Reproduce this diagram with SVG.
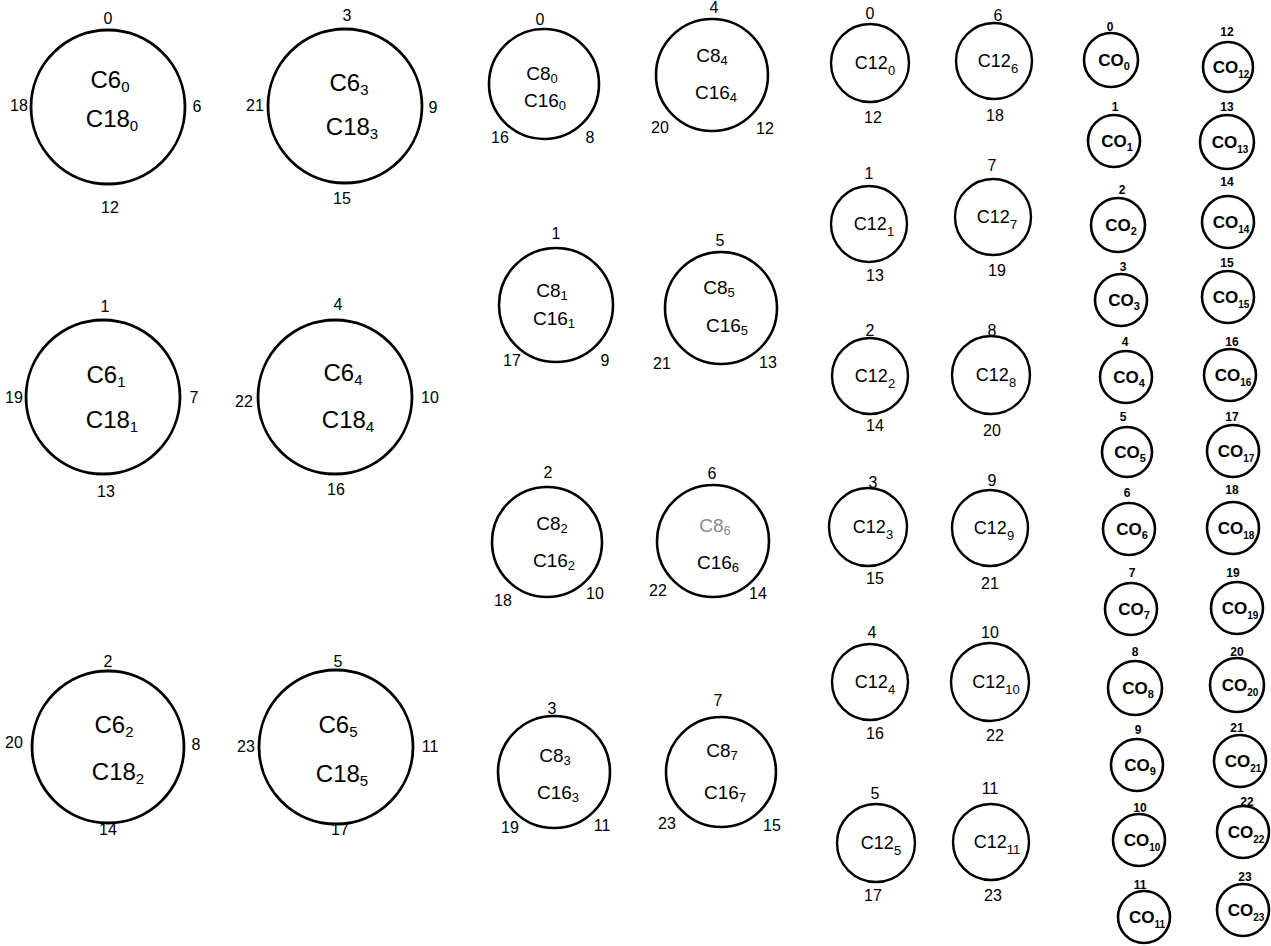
<svg xmlns="http://www.w3.org/2000/svg" width="1271" height="946" viewBox="0 0 1271 946">
<style>
text{font-family:"Liberation Sans","DejaVu Sans",sans-serif;fill:#000;text-anchor:middle}
circle{fill:none;stroke:#000}
.k6 circle{stroke-width:2.8}
.k8 circle{stroke-width:2.6}
.k12 circle{stroke-width:2.4}
.k0 circle{stroke-width:2.6}
.t6{font-size:24px}
.t8{font-size:19px}
.t12{font-size:18px}
.t0{font-size:17px;font-weight:bold}
.l{font-size:16px}
.ls{font-size:12px;font-weight:bold}
.faint{fill:#8a8a8a}
</style>
<rect width="1271" height="946" fill="#fff"/>
<g id="connectors"></g>

<!-- C6 nodes -->
<g id="c6-0" class="k6"><circle cx="108" cy="107" r="77"/>
<text class="t6" x="110" y="88">C6<tspan font-size="15" dy="4">0</tspan></text>
<text class="t6" x="112" y="127">C18<tspan font-size="15" dy="4">0</tspan></text>
<text class="l" x="108" y="24">0</text><text class="l" x="19" y="111">18</text><text class="l" x="197" y="112">6</text><text class="l" x="110" y="213">12</text></g>

<g id="c6-3" class="k6"><circle cx="345" cy="106" r="77"/>
<text class="t6" x="349" y="91">C6<tspan font-size="15" dy="4">3</tspan></text>
<text class="t6" x="352" y="135">C18<tspan font-size="15" dy="4">3</tspan></text>
<text class="l" x="347" y="21">3</text><text class="l" x="255" y="111">21</text><text class="l" x="433" y="113">9</text><text class="l" x="342" y="204">15</text></g>

<g id="c6-1" class="k6"><circle cx="103" cy="397" r="77"/>
<text class="t6" x="106" y="383">C6<tspan font-size="15" dy="4">1</tspan></text>
<text class="t6" x="112" y="428">C18<tspan font-size="15" dy="4">1</tspan></text>
<text class="l" x="105" y="312">1</text><text class="l" x="14" y="403">19</text><text class="l" x="194" y="403">7</text><text class="l" x="106" y="497">13</text></g>

<g id="c6-4" class="k6"><circle cx="335" cy="397" r="77"/>
<text class="t6" x="343" y="381">C6<tspan font-size="15" dy="4">4</tspan></text>
<text class="t6" x="348" y="428">C18<tspan font-size="15" dy="4">4</tspan></text>
<text class="l" x="338" y="310">4</text><text class="l" x="244" y="407">22</text><text class="l" x="430" y="403">10</text><text class="l" x="336" y="495">16</text></g>

<g id="c6-2" class="k6"><circle cx="108" cy="747" r="76"/>
<text class="t6" x="114" y="733">C6<tspan font-size="15" dy="4">2</tspan></text>
<text class="t6" x="118" y="780">C18<tspan font-size="15" dy="4">2</tspan></text>
<text class="l" x="108" y="667">2</text><text class="l" x="14" y="748">20</text><text class="l" x="196" y="750">8</text><text class="l" x="108" y="835">14</text></g>

<g id="c6-5" class="k6"><circle cx="336" cy="747" r="77"/>
<text class="t6" x="338" y="733">C6<tspan font-size="15" dy="4">5</tspan></text>
<text class="t6" x="342" y="782">C18<tspan font-size="15" dy="4">5</tspan></text>
<text class="l" x="338" y="667">5</text><text class="l" x="246" y="752">23</text><text class="l" x="430" y="752">11</text><text class="l" x="340" y="835">17</text></g>

<!-- C8 nodes -->
<g id="c8-0" class="k8"><circle cx="544" cy="84" r="55"/>
<text class="t8" x="542" y="80">C8<tspan font-size="13" dy="3">0</tspan></text>
<text class="t8" x="545" y="107">C16<tspan font-size="13" dy="3">0</tspan></text>
<text class="l" x="540" y="25">0</text><text class="l" x="500" y="143">16</text><text class="l" x="590" y="143">8</text></g>

<g id="c8-4" class="k8"><circle cx="712" cy="75" r="56"/>
<text class="t8" x="712" y="62">C8<tspan font-size="13" dy="3">4</tspan></text>
<text class="t8" x="716" y="99">C16<tspan font-size="13" dy="3">4</tspan></text>
<text class="l" x="714" y="13">4</text><text class="l" x="660" y="133">20</text><text class="l" x="765" y="134">12</text></g>

<g id="c8-1" class="k8"><circle cx="556" cy="305" r="57"/>
<text class="t8" x="552" y="297">C8<tspan font-size="13" dy="3">1</tspan></text>
<text class="t8" x="554" y="325">C16<tspan font-size="13" dy="3">1</tspan></text>
<text class="l" x="556" y="239">1</text><text class="l" x="512" y="366">17</text><text class="l" x="605" y="366">9</text></g>

<g id="c8-5" class="k8"><circle cx="721" cy="308" r="56"/>
<text class="t8" x="719" y="294">C8<tspan font-size="13" dy="3">5</tspan></text>
<text class="t8" x="727" y="332">C16<tspan font-size="13" dy="3">5</tspan></text>
<text class="l" x="720" y="246">5</text><text class="l" x="662" y="369">21</text><text class="l" x="768" y="368">13</text></g>

<g id="c8-2" class="k8"><circle cx="547" cy="542" r="55"/>
<text class="t8" x="552" y="530">C8<tspan font-size="13" dy="3">2</tspan></text>
<text class="t8" x="554" y="567">C16<tspan font-size="13" dy="3">2</tspan></text>
<text class="l" x="548" y="478">2</text><text class="l" x="503" y="606">18</text><text class="l" x="595" y="599">10</text></g>

<g id="c8-6" class="k8"><circle cx="713" cy="541" r="56"/>
<text class="t8 faint" x="715" y="532">C8<tspan font-size="13" dy="3">6</tspan></text>
<text class="t8" x="718" y="569">C16<tspan font-size="13" dy="3">6</tspan></text>
<text class="l" x="712" y="479">6</text><text class="l" x="658" y="596">22</text><text class="l" x="758" y="599">14</text></g>

<g id="c8-3" class="k8"><circle cx="554" cy="772" r="56"/>
<text class="t8" x="555" y="762">C8<tspan font-size="13" dy="3">3</tspan></text>
<text class="t8" x="558" y="799">C16<tspan font-size="13" dy="3">3</tspan></text>
<text class="l" x="552" y="714">3</text><text class="l" x="510" y="833">19</text><text class="l" x="602" y="831">11</text></g>

<g id="c8-7" class="k8"><circle cx="721" cy="772" r="55"/>
<text class="t8" x="722" y="757">C8<tspan font-size="13" dy="3">7</tspan></text>
<text class="t8" x="725" y="799">C16<tspan font-size="13" dy="3">7</tspan></text>
<text class="l" x="718" y="706">7</text><text class="l" x="667" y="829">23</text><text class="l" x="772" y="831">15</text></g>

<!-- C12 nodes -->
<g id="c12-0" class="k12"><circle cx="870" cy="63" r="39"/><text class="t12" x="875" y="69">C12<tspan font-size="13" dy="6">0</tspan></text><text class="l" x="870" y="19">0</text><text class="l" x="873" y="123">12</text></g>
<g id="c12-6" class="k12"><circle cx="994" cy="61" r="38"/><text class="t12" x="998" y="67">C12<tspan font-size="13" dy="6">6</tspan></text><text class="l" x="998" y="21">6</text><text class="l" x="995" y="121">18</text></g>
<g id="c12-1" class="k12"><circle cx="869" cy="224" r="38"/><text class="t12" x="874" y="230">C12<tspan font-size="13" dy="6">1</tspan></text><text class="l" x="869" y="179">1</text><text class="l" x="875" y="281">13</text></g>
<g id="c12-7" class="k12"><circle cx="993" cy="217" r="38"/><text class="t12" x="997" y="223">C12<tspan font-size="13" dy="6">7</tspan></text><text class="l" x="992" y="171">7</text><text class="l" x="997" y="276">19</text></g>
<g id="c12-2" class="k12"><circle cx="870" cy="376" r="38"/><text class="t12" x="875" y="382">C12<tspan font-size="13" dy="6">2</tspan></text><text class="l" x="870" y="336">2</text><text class="l" x="875" y="431">14</text></g>
<g id="c12-8" class="k12"><circle cx="991" cy="375" r="39"/><text class="t12" x="996" y="381">C12<tspan font-size="13" dy="6">8</tspan></text><text class="l" x="992" y="336">8</text><text class="l" x="992" y="436">20</text></g>
<g id="c12-3" class="k12"><circle cx="868" cy="527" r="39"/><text class="t12" x="873" y="533">C12<tspan font-size="13" dy="6">3</tspan></text><text class="l" x="873" y="488">3</text><text class="l" x="875" y="584">15</text></g>
<g id="c12-9" class="k12"><circle cx="990" cy="528" r="38"/><text class="t12" x="994" y="534">C12<tspan font-size="13" dy="6">9</tspan></text><text class="l" x="992" y="486">9</text><text class="l" x="990" y="589">21</text></g>
<g id="c12-4" class="k12"><circle cx="870" cy="682" r="38"/><text class="t12" x="875" y="688">C12<tspan font-size="13" dy="6">4</tspan></text><text class="l" x="872" y="638">4</text><text class="l" x="875" y="739">16</text></g>
<g id="c12-10" class="k12"><circle cx="990" cy="682" r="39"/><text class="t12" x="996" y="688">C12<tspan font-size="13" dy="6">10</tspan></text><text class="l" x="990" y="638">10</text><text class="l" x="995" y="741">22</text></g>
<g id="c12-5" class="k12"><circle cx="876" cy="843" r="39"/><text class="t12" x="881" y="849">C12<tspan font-size="13" dy="6">5</tspan></text><text class="l" x="875" y="799">5</text><text class="l" x="873" y="901">17</text></g>
<g id="c12-11" class="k12"><circle cx="991" cy="842" r="38"/><text class="t12" x="997" y="848">C12<tspan font-size="13" dy="6">11</tspan></text><text class="l" x="990" y="794">11</text><text class="l" x="993" y="901">23</text></g>

<!-- C0 nodes -->
<g id="co-0" class="k0"><circle cx="1111" cy="60" r="27"/><text class="t0" x="1114" y="66">CO<tspan font-size="11" dy="4">0</tspan></text><text class="ls" x="1110" y="31">0</text></g>
<g id="co-1" class="k0"><circle cx="1114" cy="141" r="26"/><text class="t0" x="1117" y="147">CO<tspan font-size="11" dy="4">1</tspan></text><text class="ls" x="1115" y="111">1</text></g>
<g id="co-2" class="k0"><circle cx="1118" cy="225" r="27"/><text class="t0" x="1121" y="231">CO<tspan font-size="11" dy="4">2</tspan></text><text class="ls" x="1122" y="194">2</text></g>
<g id="co-3" class="k0"><circle cx="1121" cy="300" r="26"/><text class="t0" x="1124" y="306">CO<tspan font-size="11" dy="4">3</tspan></text><text class="ls" x="1123" y="271">3</text></g>
<g id="co-4" class="k0"><circle cx="1126" cy="377" r="26"/><text class="t0" x="1129" y="383">CO<tspan font-size="11" dy="4">4</tspan></text><text class="ls" x="1125" y="346">4</text></g>
<g id="co-5" class="k0"><circle cx="1127" cy="452" r="25"/><text class="t0" x="1130" y="458">CO<tspan font-size="11" dy="4">5</tspan></text><text class="ls" x="1123" y="421">5</text></g>
<g id="co-6" class="k0"><circle cx="1129" cy="529" r="26"/><text class="t0" x="1132" y="535">CO<tspan font-size="11" dy="4">6</tspan></text><text class="ls" x="1127" y="497">6</text></g>
<g id="co-7" class="k0"><circle cx="1131" cy="609" r="26"/><text class="t0" x="1134" y="615">CO<tspan font-size="11" dy="4">7</tspan></text><text class="ls" x="1132" y="577">7</text></g>
<g id="co-8" class="k0"><circle cx="1135" cy="688" r="27"/><text class="t0" x="1138" y="694">CO<tspan font-size="11" dy="4">8</tspan></text><text class="ls" x="1135" y="656">8</text></g>
<g id="co-9" class="k0"><circle cx="1137" cy="765" r="26"/><text class="t0" x="1140" y="771">CO<tspan font-size="11" dy="4">9</tspan></text><text class="ls" x="1138" y="734">9</text></g>
<g id="co-10" class="k0"><circle cx="1139" cy="840" r="26"/><text class="t0" x="1142" y="846">CO<tspan font-size="10" dy="5">10</tspan></text><text class="ls" x="1140" y="812">10</text></g>
<g id="co-11" class="k0"><circle cx="1144" cy="917" r="26"/><text class="t0" x="1147" y="923">CO<tspan font-size="10" dy="5">11</tspan></text><text class="ls" x="1140" y="889">11</text></g>
<g id="co-12" class="k0"><circle cx="1228" cy="67" r="25"/><text class="t0" x="1231" y="73">CO<tspan font-size="10" dy="5">12</tspan></text><text class="ls" x="1227" y="36">12</text></g>
<g id="co-13" class="k0"><circle cx="1227" cy="142" r="27"/><text class="t0" x="1230" y="148">CO<tspan font-size="10" dy="5">13</tspan></text><text class="ls" x="1227" y="111">13</text></g>
<g id="co-14" class="k0"><circle cx="1228" cy="222" r="26"/><text class="t0" x="1231" y="228">CO<tspan font-size="10" dy="5">14</tspan></text><text class="ls" x="1227" y="186">14</text></g>
<g id="co-15" class="k0"><circle cx="1228" cy="297" r="26"/><text class="t0" x="1231" y="303">CO<tspan font-size="10" dy="5">15</tspan></text><text class="ls" x="1227" y="267">15</text></g>
<g id="co-16" class="k0"><circle cx="1230" cy="375" r="26"/><text class="t0" x="1233" y="381">CO<tspan font-size="10" dy="5">16</tspan></text><text class="ls" x="1232" y="346">16</text></g>
<g id="co-17" class="k0"><circle cx="1233" cy="451" r="26"/><text class="t0" x="1236" y="457">CO<tspan font-size="10" dy="5">17</tspan></text><text class="ls" x="1232" y="421">17</text></g>
<g id="co-18" class="k0"><circle cx="1233" cy="528" r="26"/><text class="t0" x="1236" y="534">CO<tspan font-size="10" dy="5">18</tspan></text><text class="ls" x="1232" y="494">18</text></g>
<g id="co-19" class="k0"><circle cx="1237" cy="608" r="26"/><text class="t0" x="1240" y="614">CO<tspan font-size="10" dy="5">19</tspan></text><text class="ls" x="1233" y="577">19</text></g>
<g id="co-20" class="k0"><circle cx="1237" cy="685" r="27"/><text class="t0" x="1240" y="691">CO<tspan font-size="10" dy="5">20</tspan></text><text class="ls" x="1237" y="656">20</text></g>
<g id="co-21" class="k0"><circle cx="1240" cy="761" r="26"/><text class="t0" x="1243" y="767">CO<tspan font-size="10" dy="5">21</tspan></text><text class="ls" x="1237" y="732">21</text></g>
<g id="co-22" class="k0"><circle cx="1243" cy="832" r="26"/><text class="t0" x="1246" y="838">CO<tspan font-size="10" dy="5">22</tspan></text><text class="ls" x="1247" y="806">22</text></g>
<g id="co-23" class="k0"><circle cx="1243" cy="910" r="26"/><text class="t0" x="1246" y="916">CO<tspan font-size="10" dy="5">23</tspan></text><text class="ls" x="1245" y="881">23</text></g>
</svg>
